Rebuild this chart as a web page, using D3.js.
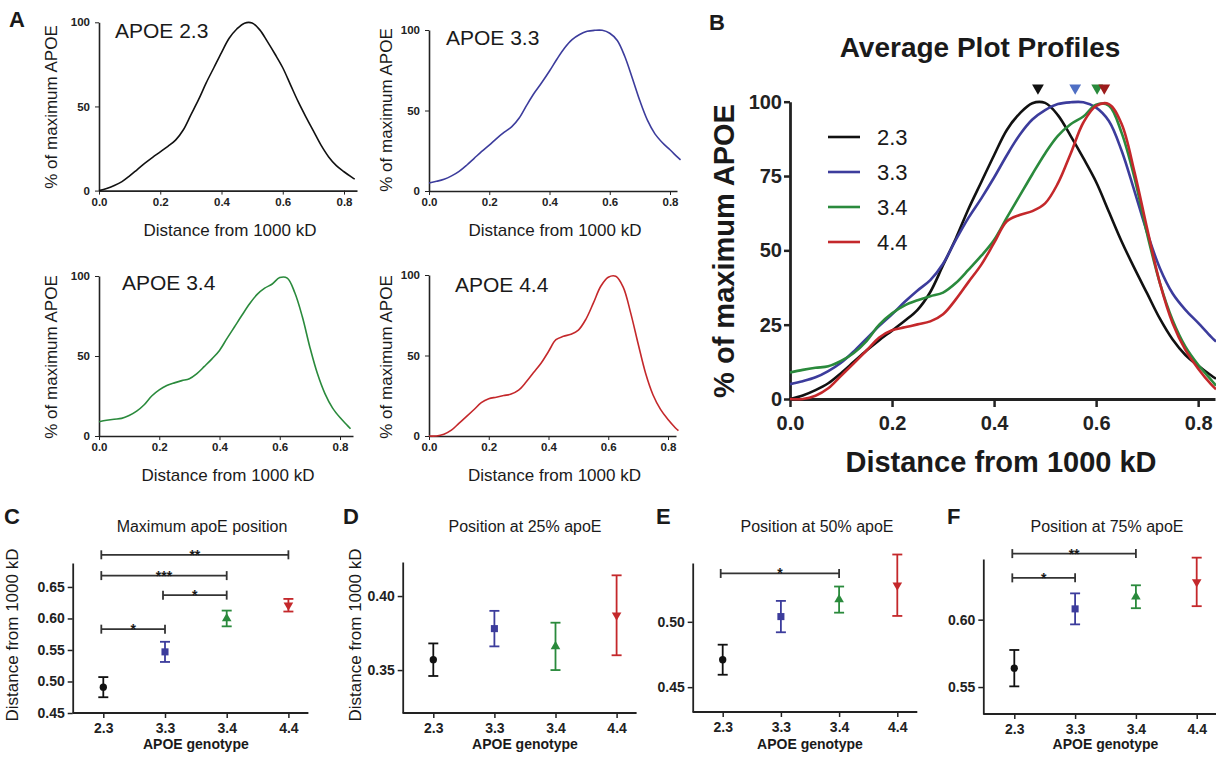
<!DOCTYPE html>
<html>
<head>
    <meta charset="utf-8">
    <style>
        html, body { margin: 0; background: white; }
        text { font-family: 'Liberation Sans', Arial, sans-serif; fill: #1a1a1a; }
        .axis path, .axis line { stroke: #222; }
        .axis text { font-weight: bold; fill: #222; }
    </style>
</head>
<body>
    <svg id="fig" width="1216" height="757"></svg>

    <script src="https://d3js.org/d3.v7.min.js"></script>

    <script>
        // ---- data ----
        var genotypes = ["2.3", "3.3", "3.4", "4.4"];
        var colors = ["#111111", "#3c3c9c", "#2a8a3c", "#c4282b"];
        var peakColors = ["#111111", "#4f6fc4", "#2a8a3c", "#9c1c1c"];

        var distance = [0, 0.025, 0.05, 0.075, 0.1, 0.125, 0.15, 0.175, 0.2, 0.225, 0.25, 0.275, 0.3,
            0.325, 0.35, 0.375, 0.4, 0.425, 0.45, 0.475, 0.5, 0.525, 0.55, 0.575, 0.6, 0.625, 0.65,
            0.675, 0.7, 0.725, 0.75, 0.775, 0.8, 0.825, 0.835];

        var profile23 = [0, 1.2, 3, 5.3, 8.7, 12.5, 16.3, 19.8, 23, 26.3, 30, 36, 45,
            54, 64, 73, 82, 90.5, 96, 99.5, 99.6, 95.5, 88.5, 81, 73, 63, 53,
            44, 35.5, 27, 20, 14.8, 11.2, 8, 6.8];
        var profile33 = [5, 6, 7.3, 9.4, 12.2, 16, 20.3, 24.6, 28.5, 32.7, 36.5, 40, 45.5,
            53.5, 61, 67.5, 74.5, 82, 88.8, 94, 97.2, 99.2, 99.8, 99.8, 98, 93.5, 83.5,
            70, 56, 44, 35.5, 30, 25.6, 21, 19.3];
        var profile34 = [8.9, 9.8, 10.5, 11, 12.8, 15.5, 19.5, 25, 28.8, 31.5, 33.2, 34.6, 35.8,
            39, 43.5, 48.2, 53.5, 61, 68.3, 75.6, 82.6, 88.5, 92.4, 95, 99, 98.7, 89.5,
            74.5, 55.5, 39, 26.5, 17.6, 11.5, 6.5, 4.5];
        var profile44 = [0, 0, 1.1, 3.6, 7.8, 12, 16.3, 20.7, 23.1, 24.1, 25.1, 26.1, 28.5,
            33.5, 39.4, 45.2, 52.5, 59.8, 61.9, 63.2, 65.8, 72.5, 82.5, 93, 98.6, 99.2, 92.5,
            76.5, 57.3, 39, 25.5, 16.5, 10.2, 5, 3.3];
        var profiles = [profile23, profile33, profile34, profile44];

        var peakPos = [0.486, 0.559, 0.602, 0.616];

        var maxMean = [0.491, 0.547, 0.600, 0.621];
        var maxErr = [0.016, 0.016, 0.0125, 0.010];
        var pos25Mean = [0.357, 0.378, 0.366, 0.387];
        var pos25Err = [0.011, 0.012, 0.016, 0.027];
        var pos50Mean = [0.471, 0.504, 0.517, 0.528];
        var pos50Err = [0.0115, 0.012, 0.010, 0.0235];
        var pos75Mean = [0.564, 0.608, 0.617, 0.628];
        var pos75Err = [0.0135, 0.0115, 0.0085, 0.018];

        // significance brackets: [from, to, level, stars]
        var maxBrackets = [["2.3", "4.4", 0.701, "**"], ["2.3", "3.4", 0.668, "***"],
            ["3.3", "3.4", 0.637, "*"], ["2.3", "3.3", 0.583, "*"]];
        var pos50Brackets = [["2.3", "3.4", 0.537, "*"]];
        var pos75Brackets = [["2.3", "3.4", 0.649, "**"], ["2.3", "3.3", 0.631, "*"]];

        var xTicks = [0, 0.2, 0.4, 0.6, 0.8];

        var svg = d3.select("#fig");

        function panelLetter(ch, x, y) {
            svg.append("text").attr("x", x).attr("y", y)
                .style("font-size", "22px").style("font-weight", "bold").text(ch);
        }

        // ---- panel A: four single profiles ----
        var smallBoxes = [
            {x0: 99, x8: 344, xEnd: 357, y0: 190.6, y100: 22.3, tx: 115, ty: 38, ly: 107, lbx: 51},
            {x0: 429, x8: 670, xEnd: 677, y0: 191, y100: 30, tx: 446, ty: 45, ly: 110, lbx: 386},
            {x0: 99, x8: 340, xEnd: 353, y0: 436, y100: 276, tx: 122, ty: 290, ly: 357, lbx: 51},
            {x0: 429, x8: 668, xEnd: 676, y0: 436, y100: 275, tx: 455, ty: 292, ly: 357, lbx: 386}
        ];

        smallBoxes.forEach(function(b, i) {
            var g = svg.append("g");
            var dEnd = 0.8 * (b.xEnd - b.x0) / (b.x8 - b.x0);
            var x = d3.scaleLinear().domain([0, dEnd]).range([b.x0, b.xEnd]);
            var y = d3.scaleLinear().domain([0, 100]).range([b.y0, b.y100]);

            g.append("g").attr("class", "axis").attr("transform", "translate(0," + b.y0 + ")")
                .call(d3.axisBottom(x).tickValues(xTicks).tickFormat(d3.format(".1f"))
                    .tickSize(4).tickSizeOuter(0).tickPadding(3))
                .call(function(a) {
                    a.selectAll("text").style("font-size", "11.5px");
                    a.select(".domain").attr("stroke-width", 1.6);
                });
            g.append("g").attr("class", "axis").attr("transform", "translate(" + b.x0 + ",0)")
                .call(d3.axisLeft(y).tickValues([0, 50, 100]).tickSize(4).tickSizeOuter(0).tickPadding(5))
                .call(function(a) {
                    a.selectAll("text").style("font-size", "11.5px");
                    a.select(".domain").attr("stroke-width", 1.6);
                });

            var line = d3.line()
                .x(function(d, k) { return x(distance[k]); })
                .y(function(d) { return y(d); })
                .curve(d3.curveCatmullRom.alpha(0.5));
            g.append("path").datum(profiles[i])
                .attr("fill", "none").attr("stroke", colors[i]).attr("stroke-width", 1.6)
                .attr("d", line);

            g.append("text").attr("x", b.tx).attr("y", b.ty)
                .style("font-size", "21px").text("APOE " + genotypes[i]);
            g.append("text").attr("x", (b.x0 + b.xEnd) / 2 + 2).attr("y", b.y0 + 45)
                .attr("text-anchor", "middle").style("font-size", "17px")
                .text("Distance from 1000 kD");
            g.append("text").attr("transform", "translate(" + b.lbx + "," + b.ly + ") rotate(-90)")
                .attr("text-anchor", "middle").attr("dy", "0.35em").style("font-size", "17px")
                .text("% of maximum APOE");
        });
        panelLetter("A", 9, 27);

        // ---- panel B: average plot profiles ----
        (function() {
            var g = svg.append("g");
            var x = d3.scaleLinear().domain([0, 0.833]).range([790, 1215]);
            var y = d3.scaleLinear().domain([0, 100]).range([399, 101.7]);

            g.append("g").attr("class", "axis").attr("transform", "translate(0,399)")
                .call(d3.axisBottom(x).tickValues(xTicks).tickFormat(d3.format(".1f"))
                    .tickSize(8).tickSizeOuter(0).tickPadding(9))
                .call(function(a) {
                    a.selectAll("text").style("font-size", "20px");
                    a.selectAll("line").attr("stroke-width", 2.5);
                    a.select(".domain").attr("stroke-width", 2.8);
                });
            g.append("g").attr("class", "axis").attr("transform", "translate(790,0)")
                .call(d3.axisLeft(y).tickValues([0, 25, 50, 75, 100]).tickSize(6).tickSizeOuter(0).tickPadding(2))
                .call(function(a) {
                    a.selectAll("text").style("font-size", "20px");
                    a.selectAll("line").attr("stroke-width", 2.5);
                    a.select(".domain").attr("stroke-width", 2.8);
                });

            var line = d3.line()
                .x(function(d, k) { return x(distance[k]); })
                .y(function(d) { return y(d); })
                .curve(d3.curveCatmullRom.alpha(0.5));
            profiles.forEach(function(p, i) {
                g.append("path").datum(p)
                    .attr("fill", "none").attr("stroke", colors[i]).attr("stroke-width", 2.6)
                    .attr("d", line);
            });

            g.selectAll(".peak").data(peakPos).enter().append("path")
                .attr("class", "peak")
                .attr("d", d3.symbol().type(d3.symbolTriangle).size(60))
                .attr("transform", function(d) { return "translate(" + x(d) + ",88) rotate(180)"; })
                .attr("fill", function(d, i) { return peakColors[i]; });

            var leg = g.selectAll(".leg").data(genotypes).enter().append("g")
                .attr("transform", function(d, i) { return "translate(828," + (137 + i * 35) + ")"; });
            leg.append("line").attr("x1", 0).attr("x2", 32)
                .attr("stroke", function(d, i) { return colors[i]; }).attr("stroke-width", 2.6);
            leg.append("text").attr("x", 49).attr("dy", "0.36em")
                .style("font-size", "22px").text(function(d) { return d; });

            g.append("text").attr("x", 980).attr("y", 57).attr("text-anchor", "middle")
                .style("font-size", "28px").style("font-weight", "bold").text("Average Plot Profiles");
            g.append("text").attr("x", 1001).attr("y", 472).attr("text-anchor", "middle")
                .style("font-size", "29px").style("font-weight", "bold").text("Distance from 1000 kD");
            g.append("text").attr("transform", "translate(724,251) rotate(-90)")
                .attr("text-anchor", "middle").attr("dy", "0.35em")
                .style("font-size", "29px").style("font-weight", "bold").text("% of maximum APOE");
        })();
        panelLetter("B", 709, 30);

        // ---- panels C-F: genotype scatter with SEM ----
        var shapes = [d3.symbolCircle, d3.symbolSquare, d3.symbolTriangle, d3.symbolTriangle];
        var shapeSizes = [42, 50, 40, 40];
        var shapeRot = [0, 0, 0, 180];

        function scatterPanel(opt) {
            var g = svg.append("g");
            var x = d3.scalePoint().domain(genotypes).range([opt.first, opt.first + 3 * opt.step]);
            var y = d3.scaleLinear().domain(opt.domain).range([opt.bottom, opt.top]);
            var xEnd = opt.first + 3 * opt.step + 20;

            g.append("line").attr("x1", opt.axisX).attr("x2", xEnd)
                .attr("y1", opt.bottom).attr("y2", opt.bottom)
                .attr("stroke", "#222").attr("stroke-width", 1.8);
            g.append("g").attr("class", "axis").attr("transform", "translate(0," + opt.bottom + ")")
                .call(d3.axisBottom(x).tickSize(5).tickPadding(5))
                .call(function(a) {
                    a.select(".domain").remove();
                    a.selectAll("text").style("font-size", "14px");
                    a.selectAll("line").attr("stroke-width", 1.5);
                });
            g.append("g").attr("class", "axis").attr("transform", "translate(" + opt.axisX + ",0)")
                .call(d3.axisLeft(y).tickValues(opt.ticks).tickFormat(d3.format(".2f"))
                    .tickSize(5).tickSizeOuter(0).tickPadding(3))
                .call(function(a) {
                    a.selectAll("text").style("font-size", "14px");
                    a.selectAll("line").attr("stroke-width", 1.5);
                    a.select(".domain").attr("stroke-width", 1.8);
                });

            genotypes.forEach(function(gt, i) {
                var cx = x(gt), m = opt.mean[i], e = opt.err[i];
                var c = colors[i];
                g.append("line").attr("x1", cx).attr("x2", cx)
                    .attr("y1", y(m - e)).attr("y2", y(m + e))
                    .attr("stroke", c).attr("stroke-width", 1.8);
                [m - e, m + e].forEach(function(v) {
                    g.append("line").attr("x1", cx - 5).attr("x2", cx + 5)
                        .attr("y1", y(v)).attr("y2", y(v))
                        .attr("stroke", c).attr("stroke-width", 1.8);
                });
                g.append("path")
                    .attr("d", d3.symbol().type(shapes[i]).size(shapeSizes[i]))
                    .attr("transform", "translate(" + cx + "," + y(m) + ") rotate(" + shapeRot[i] + ")")
                    .attr("fill", c);
            });

            opt.brackets.forEach(function(br) {
                var x1 = x(br[0]) - 2, x2 = x(br[1]), yy = y(br[2]);
                g.append("line").attr("x1", x1).attr("x2", x2).attr("y1", yy).attr("y2", yy)
                    .attr("stroke", "#333").attr("stroke-width", 1.8);
                [x1, x2].forEach(function(xx) {
                    g.append("line").attr("x1", xx).attr("x2", xx).attr("y1", yy - 4.5).attr("y2", yy + 4.5)
                        .attr("stroke", "#333").attr("stroke-width", 1.8);
                });
                g.append("text").attr("x", (x1 + x2) / 2).attr("y", yy + 5)
                    .attr("text-anchor", "middle").style("font-size", "14px").style("font-weight", "bold")
                    .text(br[3]);
            });

            var mid = (x(genotypes[0]) + x(genotypes[3])) / 2;
            g.append("text").attr("x", opt.titleX).attr("y", 532).attr("text-anchor", "middle")
                .style("font-size", "16px").text(opt.title);
            g.append("text").attr("x", mid).attr("y", 749).attr("text-anchor", "middle")
                .style("font-size", "14px").style("font-weight", "bold").text("APOE genotype");
            if (opt.ylabelX) {
                g.append("text").attr("transform", "translate(" + opt.ylabelX + ",635) rotate(-90)")
                    .attr("text-anchor", "middle").attr("dy", "0.35em")
                    .style("font-size", "17px").text("Distance from 1000 kD");
            }
            panelLetter(opt.letter, opt.letterX, 524);
        }

        scatterPanel({letter: "C", letterX: 4, axisX: 72.7, top: 563, bottom: 713,
            domain: [0.45, 0.688], ticks: [0.45, 0.50, 0.55, 0.60, 0.65], first: 103.3, step: 61.7,
            mean: maxMean, err: maxErr, brackets: maxBrackets,
            title: "Maximum apoE position", titleX: 202, ylabelX: 12});
        scatterPanel({letter: "D", letterX: 343, axisX: 402.7, top: 562, bottom: 713,
            domain: [0.321, 0.423], ticks: [0.35, 0.40], first: 433.3, step: 61.1,
            mean: pos25Mean, err: pos25Err, brackets: [],
            title: "Position at 25% apoE", titleX: 525, ylabelX: 355});
        scatterPanel({letter: "E", letterX: 656, axisX: 692.7, top: 563, bottom: 712,
            domain: [0.431, 0.545], ticks: [0.45, 0.50], first: 722.7, step: 58.2,
            mean: pos50Mean, err: pos50Err, brackets: pos50Brackets,
            title: "Position at 50% apoE", titleX: 817});
        scatterPanel({letter: "F", letterX: 947, axisX: 983.3, top: 559, bottom: 714,
            domain: [0.530, 0.645], ticks: [0.55, 0.60], first: 1014.3, step: 60.8,
            mean: pos75Mean, err: pos75Err, brackets: pos75Brackets,
            title: "Position at 75% apoE", titleX: 1107});
    </script>
</body>
</html>
